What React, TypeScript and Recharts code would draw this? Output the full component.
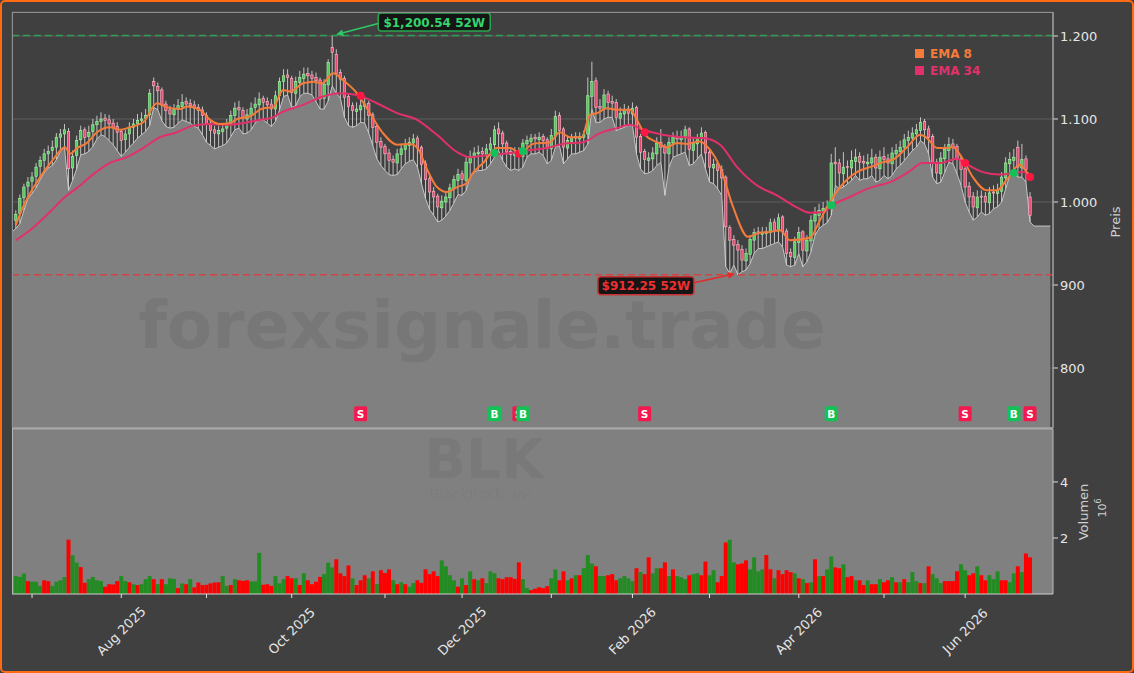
import React from "react";
import {
  ComposedChart, Area, Bar, Line, XAxis, YAxis, CartesianGrid,
  ReferenceLine, ReferenceDot, Cell,
} from "recharts";

const FONT = "DejaVu Sans, Verdana, sans-serif";

// ---------- data ----------
const closes = [985,1004,1018,1024,1030,1042,1050,1058,1061,1066,
1078,1082,1087,1040,1055,1074,1086,1078,1084,1093,
1097,1100,1098,1094,1090,1084,1074,1082,1090,1094,
1098,1100,1104,1131,1140,1134,1117,1110,1106,1112,
1116,1120,1118,1116,1113,1110,1104,1094,1086,1083,
1086,1088,1094,1104,1113,1111,1101,1105,1113,1118,
1124,1120,1117,1112,1128,1145,1152,1150,1132,1145,
1150,1154,1152,1149,1146,1124,1142,1168,1180,1155,
1148,1126,1115,1110,1112,1116,1118,1104,1090,1072,
1066,1058,1050,1048,1058,1064,1069,1072,1076,1065,
1045,1027,1012,1006,994,1001,1006,1017,1027,1033,
1027,1048,1055,1059,1060,1058,1064,1070,1087,1082,
1070,1060,1057,1059,1056,1071,1074,1077,1076,1078,
1074,1065,1080,1103,1086,1066,1074,1078,1077,1079,
1081,1128,1145,1114,1113,1129,1120,1119,1102,1107,
1111,1107,1113,1078,1060,1051,1053,1059,1071,1066,
1059,1072,1078,1076,1078,1087,1063,1071,1077,1083,
1059,1042,1045,1038,1029,970,954,948,942,930,
938,955,963,962,963,964,975,966,981,964,
938,934,952,963,942,954,978,985,990,992,
994,1047,1046,1035,1042,1042,1050,1054,1048,1047,
1048,1053,1041,1054,1051,1047,1059,1062,1066,1075,
1078,1083,1087,1096,1087,1078,1047,1035,1053,1063,
1069,1066,1051,1039,1018,1006,994,1006,1006,1000,
1011,1011,1014,1030,1047,1051,1054,1042,1051,1039,
984];

const opens = [978,986,1005,1019,1025,1031,1043,1050,1058,1062,
1066,1078,1082,1085,1041,1056,1075,1087,1079,1085,
1093,1097,1101,1099,1095,1091,1085,1075,1082,1090,
1094,1098,1101,1105,1145,1139,1135,1118,1111,1105,
1112,1115,1121,1119,1117,1114,1111,1104,1095,1087,
1082,1085,1089,1095,1104,1114,1110,1100,1104,1114,
1117,1125,1121,1118,1112,1128,1145,1153,1149,1131,
1144,1149,1155,1153,1150,1147,1125,1141,1186,1178,
1156,1149,1127,1116,1109,1111,1115,1119,1105,1091,
1073,1067,1059,1051,1047,1057,1063,1068,1071,1077,
1066,1046,1028,1013,1007,993,1000,1005,1016,1026,
1034,1026,1047,1054,1058,1061,1057,1063,1069,1088,
1083,1071,1061,1056,1060,1055,1070,1073,1078,1075,
1079,1075,1064,1079,1104,1088,1065,1073,1079,1076,
1078,1082,1127,1146,1115,1112,1130,1121,1120,1101,
1106,1112,1106,1114,1079,1061,1050,1052,1058,1072,
1067,1058,1071,1079,1075,1077,1088,1062,1070,1076,
1084,1060,1041,1046,1039,1030,969,955,949,943,
929,937,954,964,961,962,963,976,965,982,
965,939,933,951,964,941,953,977,984,989,
991,995,1048,1047,1034,1043,1041,1049,1055,1049,
1046,1047,1054,1040,1055,1052,1046,1058,1061,1066,
1074,1077,1082,1086,1097,1088,1079,1048,1034,1052,
1062,1070,1067,1052,1040,1019,1007,993,1007,1007,
999,1012,1010,1013,1029,1046,1050,1066,1041,1052,
1006];

const highs = [990,1009,1022,1030,1036,1047,1055,1064,1068,1074,
1083,1088,1094,1089,1062,1080,1092,1090,1092,1100,
1104,1108,1106,1105,1100,1096,1088,1087,1096,1100,
1106,1108,1112,1136,1150,1144,1138,1122,1116,1118,
1124,1130,1126,1124,1122,1118,1115,1108,1098,1092,
1092,1094,1100,1110,1120,1122,1114,1112,1120,1126,
1132,1128,1126,1124,1134,1150,1160,1160,1152,1151,
1158,1162,1162,1158,1156,1150,1148,1172,1200.54,1184,
1160,1152,1130,1120,1120,1124,1126,1122,1108,1094,
1078,1070,1064,1056,1064,1070,1076,1078,1082,1080,
1068,1050,1032,1018,1010,1008,1012,1022,1032,1040,
1038,1054,1062,1066,1068,1066,1070,1078,1092,1096,
1086,1074,1066,1066,1066,1076,1080,1082,1082,1084,
1082,1078,1088,1110,1108,1090,1080,1082,1084,1084,
1086,1150,1169,1150,1124,1136,1134,1128,1124,1114,
1118,1116,1120,1116,1082,1064,1060,1066,1078,1088,
1070,1078,1084,1086,1086,1092,1090,1078,1082,1090,
1086,1064,1052,1050,1044,1032,972,960,954,948,
944,960,968,970,970,970,980,980,986,984,
968,944,958,970,966,960,984,994,998,1000,
1002,1058,1066,1052,1060,1050,1062,1064,1060,1056,
1058,1064,1058,1062,1066,1058,1066,1070,1074,1082,
1086,1090,1094,1102,1100,1092,1082,1052,1060,1070,
1078,1076,1070,1056,1044,1024,1012,1014,1014,1012,
1018,1020,1022,1036,1054,1060,1064,1074,1070,1056,
1012];

const lows = [968,974,990,1004,1010,1017,1027,1035,1041,1044,
1051,1061,1066,1014,1026,1040,1057,1058,1061,1067,
1076,1081,1079,1074,1069,1062,1055,1060,1066,1071,
1077,1081,1085,1092,1114,1111,1098,1091,1089,1090,
1095,1099,1097,1095,1091,1089,1081,1072,1068,1064,
1066,1068,1071,1079,1087,1089,1082,1083,1087,1095,
1099,1099,1095,1091,1097,1111,1127,1129,1114,1116,
1127,1131,1131,1129,1121,1112,1112,1122,1140,1131,
1125,1102,1092,1090,1092,1096,1095,1083,1068,1052,
1044,1038,1033,1032,1033,1040,1046,1049,1051,1042,
1022,1004,991,984,976,978,983,990,999,1009,
1008,1014,1030,1036,1038,1038,1040,1046,1054,1062,
1050,1042,1038,1040,1038,1042,1054,1058,1058,1060,
1056,1046,1050,1066,1068,1046,1052,1058,1058,1060,
1062,1070,1112,1096,1096,1100,1102,1102,1086,1088,
1090,1092,1092,1058,1040,1034,1035,1038,1044,1048,
1008,1042,1054,1056,1058,1060,1044,1046,1052,1058,
1040,1024,1022,1016,1008,922,914,924,912.25,916,
918,926,938,944,944,946,948,950,952,946,
924,922,924,938,922,928,940,960,968,972,
975,984,1020,1016,1018,1022,1026,1032,1026,1028,
1028,1032,1024,1026,1032,1028,1032,1040,1044,1050,
1056,1062,1066,1074,1070,1058,1030,1022,1024,1036,
1048,1046,1034,1020,1000,988,978,982,988,984,
986,992,994,1000,1016,1032,1034,1030,1030,1024,
976];

// shaded price area at the left frame edge and its flat continuation after the last bar
const headLow = 964;
const tailLow = [971, 971, 971, 971, 971];

// volume in millions
const volumes = [0.64,0.61,0.73,0.46,0.44,0.44,0.29,0.49,0.46,0.29,0.44,0.49,0.61,
1.94,1.38,1.12,0.96,0.40,0.53,0.61,0.49,0.46,0.26,0.35,0.34,0.46,
0.64,0.46,0.42,0.35,0.32,0.35,0.53,0.64,0.53,0.35,0.53,0.35,0.56,
0.54,0.21,0.38,0.35,0.53,0.24,0.41,0.32,0.33,0.38,0.41,0.42,0.64,
0.29,0.32,0.53,0.49,0.47,0.49,0.45,0.45,1.47,0.33,0.35,0.29,0.64,
0.38,0.53,0.64,0.56,0.56,0.32,0.74,0.49,0.35,0.44,0.61,0.71,1.12,
0.95,1.24,0.74,0.64,1.02,0.56,0.32,0.49,0.67,0.56,0.81,0.35,0.85,
0.75,0.88,0.49,0.35,0.42,0.35,0.26,0.39,0.49,0.40,0.88,0.71,0.81,
0.64,1.20,0.99,0.67,0.49,0.26,0.56,0.32,0.81,0.53,0.49,0.56,0.39,
0.81,0.74,0.56,0.53,0.60,0.60,0.54,1.13,0.53,0.21,0.14,0.19,0.24,
0.21,0.28,0.56,0.88,
0.49,0.81,0.49,0.56,0.67,0.67,0.92,1.39,1.09,0.99,0.64,0.64,0.67,
0.71,0.49,0.56,0.64,0.56,0.46,0.92,0.78,0.71,1.31,0.74,0.92,0.92,
1.13,0.64,0.88,0.64,0.60,0.53,0.67,0.71,0.74,0.67,1.16,0.67,0.85,
0.42,0.64,1.84,1.94,1.13,1.06,1.09,1.20,0.88,1.31,0.81,0.88,1.39,
0.88,0.56,0.85,0.71,0.85,0.78,0.74,0.56,0.53,0.39,0.42,1.24,0.64,
0.64,0.88,1.34,0.95,0.92,1.06,0.60,0.64,0.49,0.49,0.32,0.49,0.35,
0.35,0.53,0.42,0.49,0.60,0.42,0.42,0.53,0.42,0.78,0.46,0.39,0.39,
0.99,0.71,0.56,0.39,0.46,0.46,0.46,0.81,1.06,0.85,0.67,0.74,0.99,
0.67,0.49,0.67,0.53,0.81,0.49,0.49,0.42,0.74,0.99,0.78,1.45,1.31];

const volDir =
  "GGGRGGGRRGGGG" + "RGGRRGGGGRRRR" + "GGRGRGGGRGRGG" + "GRGRGRRRRRRRG" +
  "GRGRRRGGGRRRG" + "GGRRGRGRRRRGG" + "GRRRRGRRRGRGR" + "RRGRGRGGRRRRR" +
  "RGGGGRGRGRGRG" + "GGRRRRRRGGRRR" + "RRGG" +
  "RRGRGRGGGRGGR" + "RRGGGGRGRRGGR" + "RGRGGGRGGRRGG" + "RRRGGRRRGGGGR" +
  "RGRRRRGRGRGRG" + "RGGRRGRRGRRGR" + "RGRRGRGRGGGRG" + "RGGGRRRRGGRRG" +
  "RRGGGRRGGRGRR";

// EMA lines: [bar index, value]
const ema8Pts = [[0,972],[1.8,994],[6,1030],[9.2,1051],[12.1,1066],[13.4,1058],[15.1,1065],[17.5,1071],[20,1084],[23.2,1090],[25.7,1087],[28.1,1090],[31.4,1096],[34.8,1119],[37.3,1114],[40.5,1112],[42.2,1115],[45.4,1111],[47.9,1099],[50.3,1094],[52.8,1095],[54.5,1100],[57.7,1103],[61,1113],[63.4,1114],[65.9,1135],[67.6,1133],[70.8,1143],[73.3,1145],[75.5,1143],[78.2,1155],[80.6,1147],[84.1,1131],[87.3,1107],[90.5,1083],[94,1069],[97.2,1070],[98.9,1066],[101.4,1039],[103.8,1018],[106.3,1012],[108.8,1018],[111.2,1023],[112.7,1035],[115.2,1047],[118.6,1065],[121.8,1065],[124.3,1059],[127.5,1070],[131.7,1072],[134.1,1084],[136.6,1078],[139.5,1078],[141.5,1105],[143.3,1107],[145.7,1113],[148.2,1111],[151.4,1111],[153.1,1099],[155.1,1081],[158.1,1072],[160.5,1066],[163,1071],[165.4,1070],[168.6,1073],[171.1,1063],[173.6,1042],[176.8,994],[180.5,958],[183.4,963],[185.9,964],[188.4,966],[190.8,954],[195.8,957],[198.2,978],[200.7,1000],[203.2,1018],[207.3,1036],[210.5,1042],[213.8,1048],[216.2,1051],[219.7,1066],[222.9,1081],[224.6,1077],[227.1,1065],[229.5,1065],[231,1066],[233.5,1051],[235.9,1030],[239.4,1014],[241.8,1014],[244.3,1027],[247.5,1045],[249.2,1036],[250,1032]];

const ema34Pts = [[0,954],[3.5,966],[8.4,988],[12.1,1006],[15.1,1017],[19,1033],[23.2,1047],[27.4,1054],[31.4,1065],[35.5,1078],[39.7,1084],[43.7,1092],[47.9,1094],[52,1093],[56,1095],[60.2,1099],[63.4,1102],[65.1,1107],[70.8,1117],[75.7,1127],[79.9,1131],[84.1,1129],[89,1119],[94,1107],[98.9,1099],[103.8,1081],[108.8,1060],[112,1054],[116.9,1057],[121.8,1059],[127.5,1063],[130.9,1065],[134.9,1070],[139.8,1072],[144,1083],[148.2,1089],[151.4,1093],[154.6,1087],[159.5,1081],[164.5,1078],[169.4,1077],[173.6,1069],[177.8,1042],[182.7,1020],[187.6,1008],[191.6,996],[195.8,987],[199,988],[201.2,996],[205.6,1006],[210.5,1017],[215.5,1024],[219.7,1035],[223.6,1047],[227.8,1047],[232,1052],[233.5,1048],[238.4,1036],[242.6,1033],[245.8,1035],[248.3,1036],[250,1030]];

// crossover signals: bar index, type, price of the crossing dot
const signals = [
  { i: 85, t: "S", p: 1128 },
  { i: 118, t: "B", p: 1059 },
  { i: 124, t: "S", p: 1058 },
  { i: 125, t: "B", p: 1061 },
  { i: 155, t: "S", p: 1084 },
  { i: 201, t: "B", p: 996 },
  { i: 234, t: "S", p: 1047 },
  { i: 246, t: "B", p: 1035 },
  { i: 250, t: "S", p: 1030 },
];
const MARKER_LEVEL = 745;

const high52 = { i: 78, p: 1200.54, label: "$1,200.54 52W" };
const low52 = { i: 178, p: 912.25, label: "$912.25 52W" };

const monthTicks = [4, 26, 47, 68, 91, 110, 132, 152, 171, 193, 214, 234];
const monthLabels = ["", "Aug 2025", "", "Oct 2025", "", "Dec 2025", "", "Feb 2026", "", "Apr 2026", "", "Jun 2026"];
const priceTicks = [800, 900, 1000, 1100, 1200];
const volTicks = [2, 4];

const X_DOMAIN = [-0.94, 255.66];
const PRICE_DOMAIN = [727.7, 1228.9];
const VOL_DOMAIN = [0, 5.89];

// ---------- derived tables ----------
const priceData: any[] = closes.map((c, i) => ({
  i, o: opens[i], h: highs[i], l: lows[i], c, hl: [lows[i], highs[i]], area: lows[i],
}));
const areaData: any[] = [{ i: X_DOMAIN[0], area: headLow }, ...priceData.map((d) => ({ i: d.i, area: d.area }))];
tailLow.forEach((v, k) => areaData.push({ i: closes.length + k, area: v }));

const volData = volumes.map((v, i) => ({ i, v, up: volDir[i] === "G" }));
const ema8Data = ema8Pts.map(([i, v]) => ({ i, v }));
const ema34Data = ema34Pts.map(([i, v]) => ({ i, v }));

const C_EMA8 = "#f47b3a";
const C_EMA34 = "#e2306a";

const fmtPrice = (v: number) =>
  v >= 1000 ? `${Math.floor(v / 1000)}.${String(v % 1000).padStart(3, "0")}` : String(v);

const Candle = (props: any) => {
  const { x, y, width, height, payload } = props;
  if (!payload || payload.h == null) return null;
  const top = Math.min(y, y + height);
  const h = Math.abs(height);
  const span = payload.h - payload.l;
  const ppu = span > 0 ? h / span : 0;
  const cx = x + width / 2;
  const up = payload.c >= payload.o;
  const yO = top + (payload.h - payload.o) * ppu;
  const yC = top + (payload.h - payload.c) * ppu;
  const bTop = Math.min(yO, yC);
  const bH = Math.max(1, Math.abs(yO - yC));
  return (
    <g>
      <line x1={cx} x2={cx} y1={top} y2={top + h} stroke="#d2d2d2" strokeWidth={0.9} />
      <rect x={cx - 1.2} y={bTop} width={2.4} height={bH}
        fill={up ? "#55c85e" : "#e44a70"} stroke={up ? "#aef5ae" : "#ffbccb"} strokeWidth={0.6} />
    </g>
  );
};

const markerShape = (t: string) => (p: any) => {
  const { cx, cy } = p;
  const col = t === "B" ? "#13c255" : "#f2194f";
  return (
    <g>
      <rect x={cx - 6.5} y={cy - 7.5} width={13} height={15} rx={1.5} fill={col} />
      <text x={cx} y={cy + 4} textAnchor="middle" fontSize={10.5} fontWeight="bold" fill="#ffffff" fontFamily={FONT}>{t}</text>
    </g>
  );
};

const arrow = (x1: number, y1: number, x2: number, y2: number, col: string) => {
  const a = Math.atan2(y2 - y1, x2 - x1);
  const L = 7, W = 3.5;
  const bx = x2 - L * Math.cos(a), by = y2 - L * Math.sin(a);
  const px = -Math.sin(a) * W, py = Math.cos(a) * W;
  return (
    <g>
      <line x1={x1} y1={y1} x2={bx} y2={by} stroke={col} strokeWidth={1.6} />
      <polygon points={`${x2},${y2} ${bx + px},${by + py} ${bx - px},${by - py}`} fill={col} />
    </g>
  );
};

const HighNote = (p: any) => {
  const { cx, cy } = p;
  const bx = cx + 46, by = cy - 22.5;
  return (
    <g>
      {arrow(bx, cy - 12, cx + 4, cy - 1, "#2fc866")}
      <rect x={bx} y={by} width={112} height={18} rx={3} fill="#151515" stroke="#28a84c" strokeWidth={1.5} />
      <text x={bx + 56} y={by + 13.5} textAnchor="middle" fontSize={12} fontWeight="bold" fill="#33d46c" fontFamily={FONT}>{high52.label}</text>
    </g>
  );
};

const LowNote = (p: any) => {
  const { cx, cy } = p;
  const bx = cx - 140, by = cy + 2;
  return (
    <g>
      {arrow(bx + 96, cy + 8, cx - 3, cy - 1, "#e52a2a")}
      <rect x={bx} y={by} width={96} height={18} rx={3} fill="#151515" stroke="#c83232" strokeWidth={1.5} />
      <text x={bx + 48} y={by + 13.5} textAnchor="middle" fontSize={12} fontWeight="bold" fill="#ee3030" fontFamily={FONT}>{low52.label}</text>
    </g>
  );
};

const XTick = (props: any) => {
  const { x, y, payload } = props;
  const idx = monthTicks.indexOf(payload.value);
  const label = monthLabels[idx];
  if (!label) return null;
  const cy = y + 31;
  return (
    <text x={x} y={cy} transform={`rotate(-45 ${x} ${cy})`} textAnchor="middle" dominantBaseline="central"
      fontSize={13} fill="#e6e6e6" fontFamily={FONT}>{label}</text>
  );
};

export default function App() {
  return (
    <div style={{ position: "absolute", left: 0, top: 0, width: 1134, height: 673, background: "#404040", overflow: "hidden", fontFamily: FONT }}>
      {/* volume panel background */}
      <div style={{ position: "absolute", left: 12, top: 429, width: 1041, height: 165, background: "#808080" }} />

      <div style={{ position: "absolute", left: 0, top: 0 }}>
        <ComposedChart width={1134} height={430} data={priceData} margin={{ top: 12, right: 21, bottom: 2, left: 12 }}>
          <CartesianGrid stroke="#5e5e5e" strokeWidth={1} />
          <XAxis dataKey="i" type="number" domain={X_DOMAIN} allowDataOverflow ticks={monthTicks}
            height={0} tick={false} tickLine={false} axisLine={false} />
          <YAxis orientation="right" type="number" domain={PRICE_DOMAIN} allowDataOverflow ticks={priceTicks}
            width={60} tickSize={5} tickFormatter={fmtPrice} stroke="#bdbdbd"
            tick={{ fill: "#e6e6e6", fontSize: 13, fontFamily: FONT }} tickLine={{ stroke: "#dddddd" }} />
          <Area data={areaData} dataKey="area" type="linear" fill="#808080" fillOpacity={1} stroke="#c6c6c6" strokeWidth={1} isAnimationActive={false} />
          <ReferenceLine y={high52.p} stroke="#2f9e55" strokeDasharray="7 4" strokeWidth={1.5} />
          <ReferenceLine y={low52.p} stroke="#cf4444" strokeDasharray="7 4" strokeWidth={1.5} />
          <Bar dataKey="hl" barSize={4} shape={<Candle />} isAnimationActive={false} />
          <Line data={ema34Data} dataKey="v" type="monotone" stroke={C_EMA34} strokeWidth={2} dot={false} isAnimationActive={false} />
          <Line data={ema8Data} dataKey="v" type="monotone" stroke={C_EMA8} strokeWidth={2} dot={false} isAnimationActive={false} />
          {signals.map((s, k) => (
            <ReferenceDot key={"d" + k} x={s.i} y={s.p} r={4} fill={s.t === "B" ? "#12c258" : "#ff1744"} stroke="none" />
          ))}
          {signals.map((s, k) => (
            <ReferenceDot key={"m" + k} x={s.i} y={MARKER_LEVEL} r={6} shape={markerShape(s.t)} />
          ))}
          <ReferenceDot x={high52.i} y={high52.p} r={0} shape={HighNote} />
          <ReferenceDot x={low52.i} y={low52.p} r={0} shape={LowNote} />
        </ComposedChart>
      </div>

      <div style={{ position: "absolute", left: 0, top: 428 }}>
        <ComposedChart width={1134} height={245} data={volData} margin={{ top: 1, right: 21, bottom: 19, left: 12 }}>
          <XAxis dataKey="i" type="number" domain={X_DOMAIN} allowDataOverflow ticks={monthTicks}
            height={60} tickSize={4} interval={0} stroke="#d0d0d0" tickLine={{ stroke: "#e0e0e0" }} tick={<XTick />} />
          <YAxis orientation="right" type="number" domain={VOL_DOMAIN} allowDataOverflow ticks={volTicks}
            width={60} tickSize={5} stroke="#bdbdbd"
            tick={{ fill: "#e6e6e6", fontSize: 13, fontFamily: FONT }} tickLine={{ stroke: "#dddddd" }} />
          <Bar dataKey="v" barSize={4} isAnimationActive={false}>
            {volData.map((d, k) => (
              <Cell key={k} fill={d.up ? "#228b22" : "#ff0000"} />
            ))}
          </Bar>
        </ComposedChart>
      </div>

      {/* overlay: frames, watermarks, legend, axis titles */}
      <svg width={1134} height={673} style={{ position: "absolute", left: 0, top: 0, pointerEvents: "none" }}>
        <rect x={12.5} y={12.5} width={1040.5} height={415} fill="none" stroke="#8e8e8e" strokeWidth={1} />
        <line x1={12} x2={1053} y1={428.5} y2={428.5} stroke="#a9a9a9" strokeWidth={2} />
        <line x1={12.5} x2={12.5} y1={429} y2={594} stroke="#b5b5b5" strokeWidth={1} />
        <text x={482} y={348} textAnchor="middle" fontSize={66} fontWeight="bold" fill="#000" fillOpacity={0.07} fontFamily={FONT}>forexsignale.trade</text>
        <text x={484} y={478} textAnchor="middle" fontSize={55} fontWeight="bold" fill="#000" fillOpacity={0.05} fontFamily={FONT}>BLK</text>
        <text x={484} y={499} textAnchor="middle" fontSize={14.5} fill="#000" fillOpacity={0.05} fontFamily={FONT}>BlackRock, Inc.</text>
        <rect x={915} y={49} width={9} height={9} fill={C_EMA8} />
        <text x={930} y={58} fontSize={12} fontWeight="bold" fill={C_EMA8} fontFamily={FONT}>EMA 8</text>
        <rect x={915} y={66} width={9} height={9} fill={C_EMA34} />
        <text x={930} y={75} fontSize={12} fontWeight="bold" fill={C_EMA34} fontFamily={FONT}>EMA 34</text>
        <text x={1120} y={222} transform="rotate(-90 1120 222)" textAnchor="middle" fontSize={13} fill="#cfcfcf" fontFamily={FONT}>Preis</text>
        <text x={1088} y={512} transform="rotate(-90 1088 512)" textAnchor="middle" fontSize={13} fill="#cfcfcf" fontFamily={FONT}>Volumen</text>
        <text x={1106} y={508} transform="rotate(-90 1106 508)" textAnchor="middle" fontSize={11} fill="#cfcfcf" fontFamily={FONT}>
          10<tspan dy={-5} fontSize={8}>6</tspan>
        </text>
      </svg>

      <div style={{ position: "absolute", left: 0, top: 0, width: 1134, height: 673, boxSizing: "border-box", border: "2px solid #ff6a13", borderRadius: 5, pointerEvents: "none" }} />
    </div>
  );
}
